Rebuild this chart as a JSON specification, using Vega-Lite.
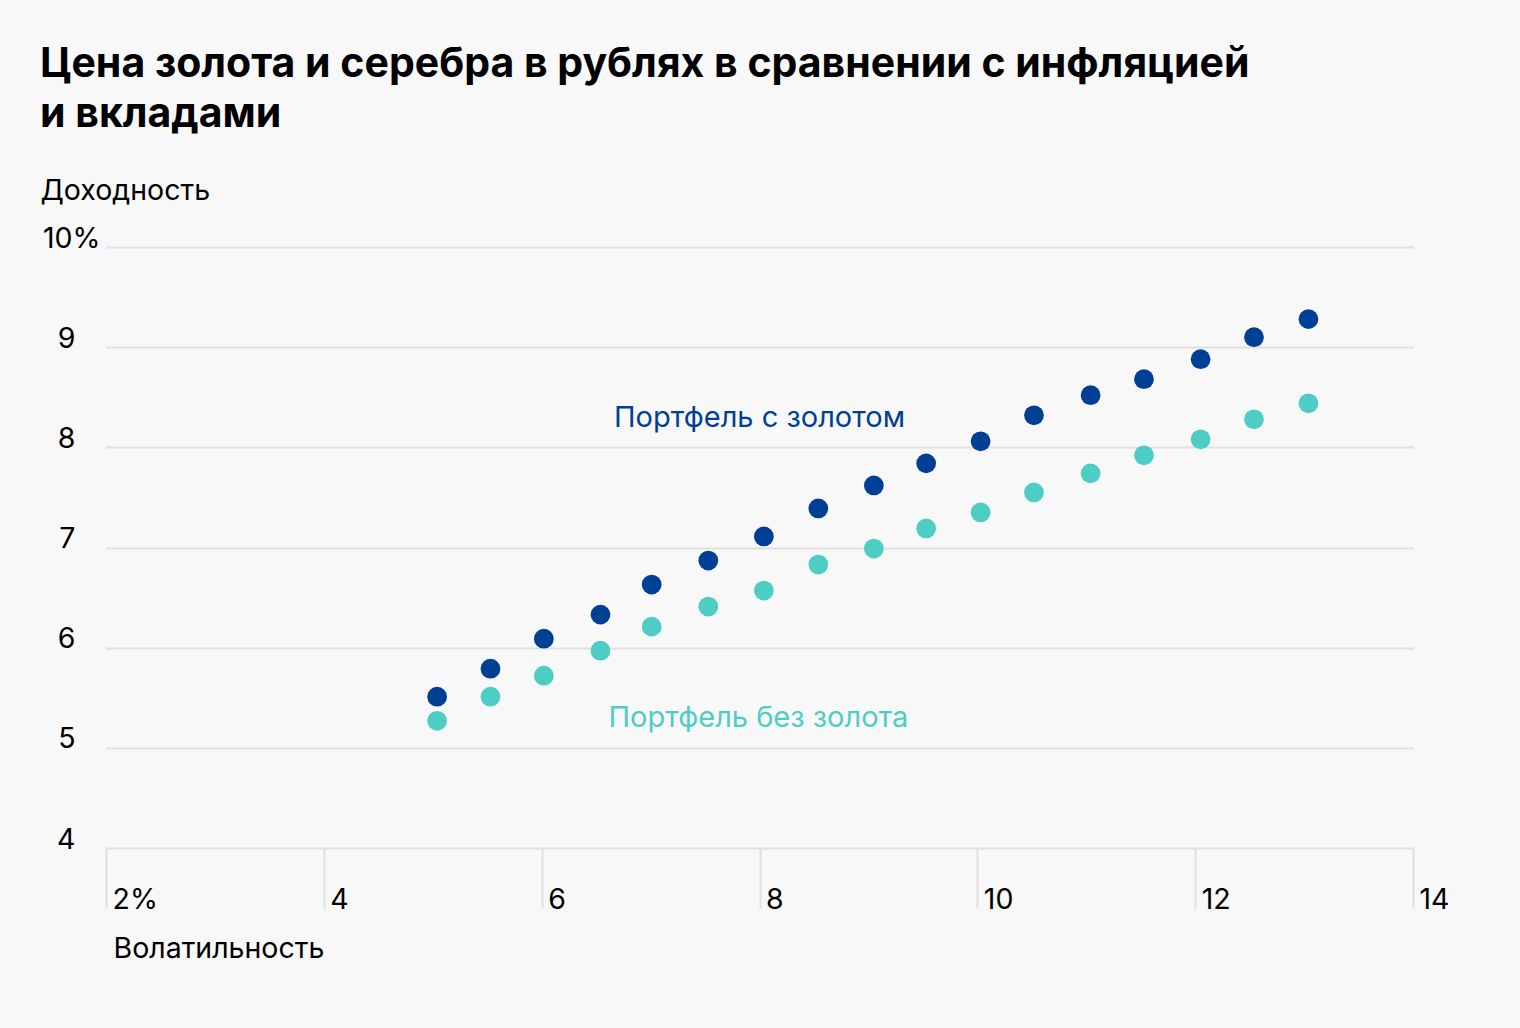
{
  "$schema": "https://vega.github.io/schema/vega-lite/v6.json",
  "autosize": "none",
  "width": 1307,
  "height": 601,
  "padding": {"left": 106, "top": 247, "right": 107, "bottom": 180},
  "background": "#f8f8f8",
  "config": {"view": {"stroke": null}, "font": "Inter"},
  "title": {
    "text": ["Цена золота и серебра в рублях в сравнении с инфляцией", "и вкладами"],
    "anchor": "start",
    "frame": "group",
    "dx": -66,
    "offset": 40,
    "fontSize": 41,
    "fontWeight": "bold",
    "font": "Inter",
    "color": "#000000",
    "lineHeight": 50
  },
  "datasets": {
    "points": [
      {"vol": 5.04, "ret": 5.51, "series": "Портфель с золотом"},
      {"vol": 5.53, "ret": 5.79, "series": "Портфель с золотом"},
      {"vol": 6.02, "ret": 6.09, "series": "Портфель с золотом"},
      {"vol": 6.54, "ret": 6.33, "series": "Портфель с золотом"},
      {"vol": 7.01, "ret": 6.63, "series": "Портфель с золотом"},
      {"vol": 7.53, "ret": 6.87, "series": "Портфель с золотом"},
      {"vol": 8.04, "ret": 7.11, "series": "Портфель с золотом"},
      {"vol": 8.54, "ret": 7.39, "series": "Портфель с золотом"},
      {"vol": 9.05, "ret": 7.62, "series": "Портфель с золотом"},
      {"vol": 9.53, "ret": 7.84, "series": "Портфель с золотом"},
      {"vol": 10.03, "ret": 8.06, "series": "Портфель с золотом"},
      {"vol": 10.52, "ret": 8.32, "series": "Портфель с золотом"},
      {"vol": 11.04, "ret": 8.52, "series": "Портфель с золотом"},
      {"vol": 11.53, "ret": 8.68, "series": "Портфель с золотом"},
      {"vol": 12.05, "ret": 8.88, "series": "Портфель с золотом"},
      {"vol": 12.54, "ret": 9.10, "series": "Портфель с золотом"},
      {"vol": 13.04, "ret": 9.28, "series": "Портфель с золотом"},
      {"vol": 5.04, "ret": 5.27, "series": "Портфель без золота"},
      {"vol": 5.53, "ret": 5.51, "series": "Портфель без золота"},
      {"vol": 6.02, "ret": 5.72, "series": "Портфель без золота"},
      {"vol": 6.54, "ret": 5.97, "series": "Портфель без золота"},
      {"vol": 7.01, "ret": 6.21, "series": "Портфель без золота"},
      {"vol": 7.53, "ret": 6.41, "series": "Портфель без золота"},
      {"vol": 8.04, "ret": 6.57, "series": "Портфель без золота"},
      {"vol": 8.54, "ret": 6.83, "series": "Портфель без золота"},
      {"vol": 9.05, "ret": 6.99, "series": "Портфель без золота"},
      {"vol": 9.53, "ret": 7.19, "series": "Портфель без золота"},
      {"vol": 10.03, "ret": 7.35, "series": "Портфель без золота"},
      {"vol": 10.52, "ret": 7.55, "series": "Портфель без золота"},
      {"vol": 11.04, "ret": 7.74, "series": "Портфель без золота"},
      {"vol": 11.53, "ret": 7.92, "series": "Портфель без золота"},
      {"vol": 12.05, "ret": 8.08, "series": "Портфель без золота"},
      {"vol": 12.54, "ret": 8.28, "series": "Портфель без золота"},
      {"vol": 13.04, "ret": 8.44, "series": "Портфель без золота"}
    ],
    "labels": [
      {"vol": 8.0, "ret": 8.29, "series": "Портфель с золотом"},
      {"vol": 7.99, "ret": 5.30, "series": "Портфель без золота"}
    ]
  },
  "encoding": {
    "x": {
      "field": "vol",
      "type": "quantitative",
      "scale": {"domain": [2, 14], "nice": false, "zero": false},
      "axis": {
        "values": [2, 4, 6, 8, 10, 12, 14],
        "grid": false,
        "domain": false,
        "ticks": true,
        "tickSize": 60,
        "tickColor": "#e0e0e0",
        "tickWidth": 2,
        "labelAlign": "left",
        "labelBaseline": "alphabetic",
        "labelOffset": 6,
        "labelPadding": 0,
        "labelFontSize": 28.5,
        "labelColor": "#000000",
        "labelFont": "Inter",
        "labelFlush": false,
        "labelOverlap": false,
        "labelExpr": "datum.value == 2 ? '2%' : datum.label",
        "title": "Волатильность",
        "titleFont": "Inter",
        "titleFontSize": 28.5,
        "titleFontWeight": "normal",
        "titleColor": "#000000",
        "titleAlign": "left",
        "titleBaseline": "middle",
        "titleX": 7,
        "titleY": 100
      }
    },
    "y": {
      "field": "ret",
      "type": "quantitative",
      "scale": {"domain": [4, 10], "nice": false, "zero": false},
      "axis": {
        "values": [4, 5, 6, 7, 8, 9, 10],
        "grid": true,
        "gridColor": "#e0e0e0",
        "gridWidth": 2,
        "domain": false,
        "ticks": false,
        "labelAlign": "right",
        "labelBaseline": "middle",
        "labelOffset": -9,
        "labelPadding": {"condition": {"test": "datum.value == 10", "value": 6}, "value": 31},
        "labelFontSize": 28.5,
        "labelColor": "#000000",
        "labelFont": "Inter",
        "labelFlush": false,
        "labelOverlap": false,
        "labelExpr": "datum.value == 10 ? '10%' : datum.label",
        "title": "Доходность",
        "titleFont": "Inter",
        "titleFontSize": 28.5,
        "titleFontWeight": "normal",
        "titleColor": "#000000",
        "titleAngle": 0,
        "titleAlign": "left",
        "titleBaseline": "middle",
        "titleX": -66,
        "titleY": -57
      }
    },
    "color": {
      "field": "series",
      "type": "nominal",
      "scale": {"domain": ["Портфель с золотом", "Портфель без золота"], "range": ["#003f96", "#4ecdc4"]},
      "legend": null
    }
  },
  "layer": [
    {
      "data": {"name": "points"},
      "mark": {"type": "circle", "size": 390, "opacity": 1}
    },
    {
      "data": {"name": "labels"},
      "mark": {"type": "text", "fontSize": 29, "font": "Inter", "align": "center", "baseline": "middle"},
      "encoding": {"text": {"field": "series"}}
    }
  ]
}
